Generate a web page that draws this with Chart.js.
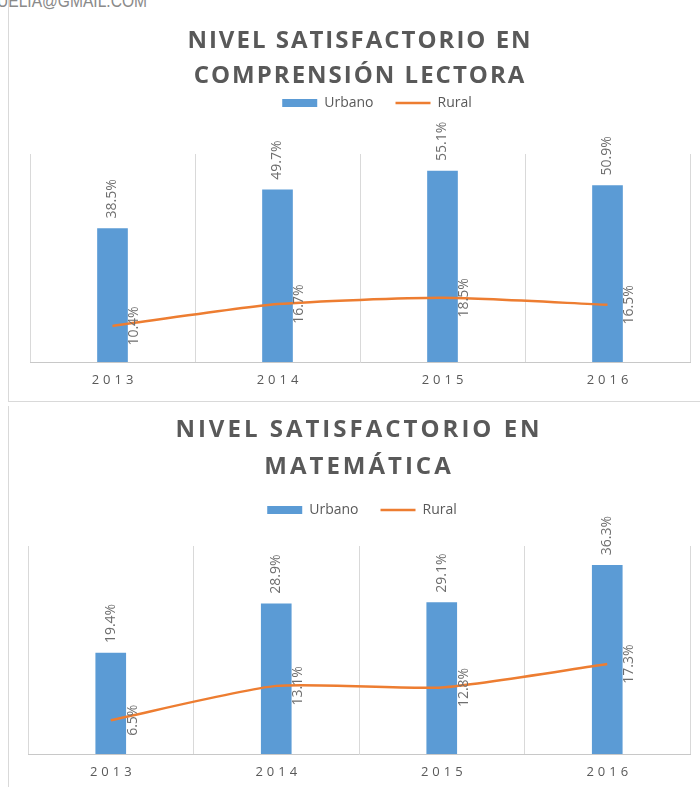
<!DOCTYPE html>
<html>
<head>
<meta charset="utf-8">
<script src="https://cdn.jsdelivr.net/npm/chart.js@4.4.1/dist/chart.umd.min.js"></script>
<style>
  body { margin: 0; background: #fff; width: 700px; height: 787px; overflow: hidden; position: relative; }
  .mail { position: absolute; left: -3px; top: -10px; font: 19px "Liberation Sans Narrow", "Liberation Sans", sans-serif; color: #8a8a8a; transform: scaleX(0.82); transform-origin: left top; white-space: nowrap; }
  .box { position: absolute; left: 8px; width: 720px; border-left: 1px solid #d9d9d9; }
  #box1 { top: -20px; height: 421px; border-bottom: 1px solid #d9d9d9; }
  #box2 { top: 406px; height: 400px; }
  canvas { position: absolute; left: 0; }
  #lectura { top: 0; }
  #matematica { top: 401px; }
</style>
</head>
<body>
<div class="mail">UELIA@GMAIL.COM</div>
<div class="box" id="box1"></div>
<div class="box" id="box2"></div>
<canvas id="lectura" width="700" height="400"></canvas>
<canvas id="matematica" width="700" height="386"></canvas>
<script>
const years = ['2013', '2014', '2015', '2016'];
const lecturaUrbano = [38.5, 49.7, 55.1, 50.9];
const lecturaRural = [10.4, 16.7, 18.5, 16.5];
const mateUrbano = [19.4, 28.9, 29.1, 36.3];
const mateRural = [6.5, 13.1, 12.8, 17.3];

const grey = '#595959';

// vertical % labels over bars and next to the line points
const valueLabels = {
    id: 'valueLabels',
    afterDatasetsDraw(chart) {
        const ctx = chart.ctx;
        ctx.save();
        ctx.font = '14px "Open Sans"';
        ctx.fillStyle = '#6e6e6e';
        ctx.textBaseline = 'middle';
        chart.data.datasets.forEach((ds, i) => {
            chart.getDatasetMeta(i).data.forEach((el, j) => {
                const text = ds.data[j].toFixed(1) + '%';
                ctx.save();
                if (ds.type === 'line') {
                    ctx.translate(el.x + 22, el.y);
                    ctx.textAlign = 'center';
                } else {
                    ctx.translate(el.x, el.y - 10);
                    ctx.textAlign = 'left';
                }
                ctx.rotate(-Math.PI / 2);
                ctx.fillText(text, 0, 0);
                ctx.restore();
            });
        });
        ctx.restore();
    }
};

// spaced-out year labels under the axis
const yearLabels = {
    id: 'yearLabels',
    afterDraw(chart, args, opts) {
        const ctx = chart.ctx;
        const x = chart.scales.x;
        ctx.save();
        ctx.font = '13px "Open Sans"';
        ctx.letterSpacing = '4px';
        ctx.fillStyle = grey;
        ctx.textAlign = 'center';
        ctx.textBaseline = 'middle';
        chart.data.labels.forEach((l, i) => {
            ctx.fillText(l, x.getPixelForTick(i) + 2, chart.chartArea.bottom + opts.offset);
        });
        ctx.restore();
    }
};

// letter spacing on the title, legend nudged right, extra room under the legend
const spacing = {
    id: 'spacing',
    beforeInit(chart, args, opts) {
        const ctx = chart.ctx;
        const title = chart.titleBlock;
        const drawTitle = title.draw;
        title.draw = function (area) {
            ctx.letterSpacing = opts.titleSpacing;
            drawTitle.call(this, area);
            ctx.letterSpacing = '0px';
        };
        const legend = chart.legend;
        const fit = legend.fit;
        legend.fit = function () {
            fit.call(this);
            this.height += opts.legendGap;
        };
        const drawLegend = legend.draw;
        legend.draw = function () {
            ctx.save();
            ctx.translate(opts.legendShift, 0);
            drawLegend.call(this);
            ctx.restore();
        };
    }
};

function makeChart(id, title, urbano, rural, yMax, lay) {
    return new Chart(document.getElementById(id), {
        type: 'bar',
        data: {
            labels: years,
            datasets: [
                {
                    type: 'bar',
                    label: 'Urbano',
                    data: urbano,
                    backgroundColor: '#5B9BD5',
                    borderWidth: 0,
                    barThickness: 30,
                    order: 1
                },
                {
                    type: 'line',
                    label: 'Rural',
                    data: rural,
                    borderColor: '#ED7D31',
                    backgroundColor: '#ED7D31',
                    borderWidth: 2.5,
                    pointRadius: 0,
                    tension: 0.2,
                    fill: false,
                    order: 0
                }
            ]
        },
        options: {
            responsive: false,
            animation: false,
            layout: { padding: { left: lay.left, right: 10, top: 0, bottom: lay.bottom } },
            scales: {
                x: {
                    grid: { color: '#d9d9d9', drawTicks: false },
                    border: { color: '#c8c8c8' },
                    ticks: { color: 'transparent', padding: 5, font: { family: 'Open Sans', size: 13 } }
                },
                y: { display: false, min: 0, max: yMax }
            },
            plugins: {
                title: {
                    display: true,
                    text: title,
                    color: grey,
                    font: { family: 'Open Sans', size: 24, weight: 'bold', lineHeight: lay.lineH + 'px' },
                    padding: { top: lay.titleTop, bottom: lay.titleBottom }
                },
                legend: {
                    labels: {
                        usePointStyle: true,
                        pointStyleWidth: 35,
                        boxHeight: 8,
                        padding: 22,
                        color: grey,
                        font: { family: 'Open Sans', size: 14 },
                        sort: (a, b) => a.datasetIndex - b.datasetIndex,
                        generateLabels(chart) {
                            const items = Chart.defaults.plugins.legend.labels.generateLabels(chart);
                            items.forEach(it => {
                                it.pointStyle = chart.data.datasets[it.datasetIndex].type === 'line' ? 'line' : 'rect';
                            });
                            return items;
                        }
                    }
                },
                tooltip: { enabled: false },
                spacing: { legendGap: lay.legendGap, legendShift: lay.legendShift, titleSpacing: lay.titleSpacing },
                yearLabels: { offset: lay.tickY }
            }
        },
        plugins: [spacing, valueLabels, yearLabels]
    });
}

makeChart('lectura', ['NIVEL SATISFACTORIO EN', 'COMPRENSIÓN LECTORA'], lecturaUrbano, lecturaRural, 60,
    { left: 30, titleTop: 23.5, lineH: 35, titleBottom: -19.5, legendGap: 34, legendShift: 17, titleSpacing: '2px', bottom: 12.4, tickY: 18 });

makeChart('matematica', ['NIVEL SATISFACTORIO EN', 'MATEMÁTICA'], mateUrbano, mateRural, 40,
    { left: 28, titleTop: 10.5, lineH: 37, titleBottom: -4.5, legendGap: 19, legendShift: 3, titleSpacing: '3px', bottom: 7.4, tickY: 18.7 });
</script>
</body>
</html>
